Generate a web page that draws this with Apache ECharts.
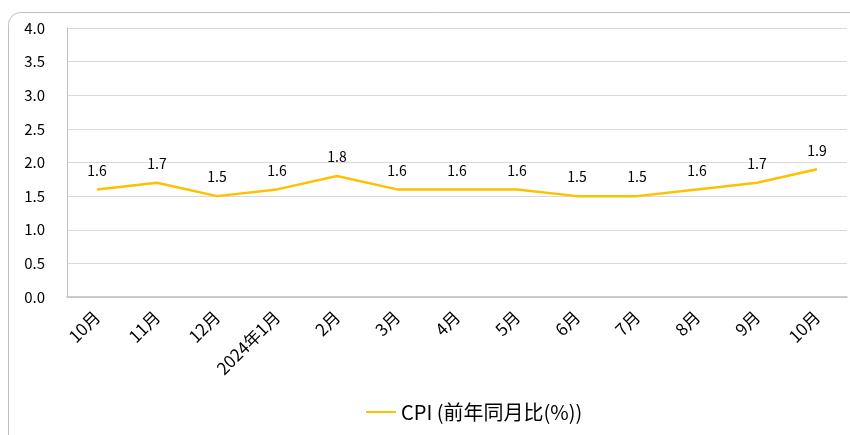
<!DOCTYPE html>
<html lang="zh">
<head>
<meta charset="UTF-8">
<title>CPI</title>
<script src="https://cdn.jsdelivr.net/npm/echarts@6/dist/echarts.min.js"></script>
<style>
  html, body { margin: 0; padding: 0; background: #fff; }
</style>
</head>
<body>
<div id="main" style="width: 850px; height: 435px;"></div>
<script>
// 数据
var categories = ['10月', '11月', '12月', '2024年1月', '2月', '3月', '4月', '5月', '6月', '7月', '8月', '9月', '10月'];
var cpiValues = [1.6, 1.7, 1.5, 1.6, 1.8, 1.6, 1.6, 1.6, 1.5, 1.5, 1.6, 1.7, 1.9];
var seriesName = 'CPI (前年同月比(%))';

var font = '"Noto Sans CJK SC", "Noto Sans", sans-serif';
var myChart = echarts.init(document.getElementById('main'));

var option = {
    animation: false,
    textStyle: { fontFamily: font },
    graphic: [{
        type: 'rect',
        shape: { x: 8.5, y: 12.5, width: 900, height: 460, r: 12 },
        style: { fill: 'none', stroke: '#bfbfbf', lineWidth: 1 },
        silent: true
    }],
    grid: { left: 67, right: 3, top: 28, bottom: 138, containLabel: false },
    legend: {
        bottom: 8,
        left: 361,
        itemWidth: 30,
        itemHeight: 2,
        itemGap: 4,
        icon: 'rect',
        textStyle: { fontSize: 20, color: '#000', fontFamily: font },
        data: [seriesName]
    },
    xAxis: {
        type: 'category',
        data: categories,
        boundaryGap: true,
        axisLine: { lineStyle: { color: '#bfbfbf', width: 1.5 } },
        axisTick: { show: false },
        axisLabel: { rotate: 45, color: '#000', fontSize: 17, margin: 17, interval: 0 }
    },
    yAxis: {
        type: 'value',
        min: 0,
        max: 4,
        interval: 0.5,
        axisLine: { show: true, lineStyle: { color: '#bfbfbf' } },
        axisTick: { show: false },
        splitLine: { lineStyle: { color: '#d9d9d9' } },
        axisLabel: {
            color: '#000', fontSize: 15, margin: 22,
            formatter: function (v) { return v.toFixed(1); }
        }
    },
    series: [{
        name: seriesName,
        type: 'line',
        data: cpiValues,
        symbol: 'circle',
        symbolSize: 0,
        lineStyle: { color: '#FFC000', width: 2.5 },
        itemStyle: { color: '#FFC000' },
        label: {
            show: true,
            position: 'top',
            distance: 12,
            color: '#000',
            fontSize: 14,
            formatter: function (p) { return p.value.toFixed(1); }
        }
    }]
};

myChart.setOption(option);
</script>
</body>
</html>
